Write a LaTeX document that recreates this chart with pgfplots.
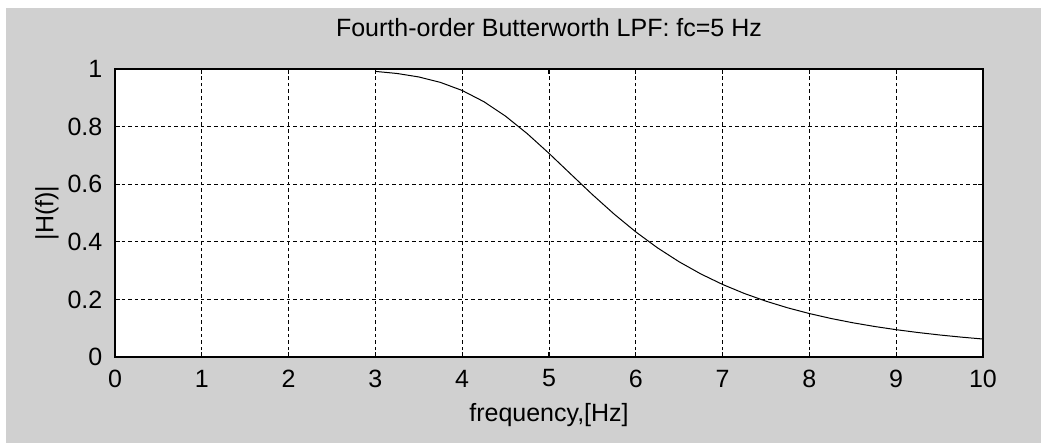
\documentclass[border=0pt]{standalone}
\usepackage{fontspec}
\setmainfont{Liberation Sans}
\usepackage{pgfplots}
\pgfplotsset{compat=1.18}
\definecolor{figgrey}{RGB}{208,208,208}
\begin{document}
\begin{tikzpicture}
\fontsize{12.5}{15}\selectfont
\useasboundingbox[fill=white] (-57.5pt,-44pt) rectangle (463pt,178.5pt);
\fill[figgrey] (-54.5pt,-43pt) rectangle (463pt,174.5pt);
\begin{axis}[
  at={(0pt,0pt)}, anchor=south west,
  scale only axis, width=434pt, height=144pt,
  xmin=0, xmax=10, ymin=0, ymax=1,
  xtick={0,1,...,10}, ytick={0,0.2,0.4,0.6,0.8,1},
  yticklabels={0,0.2,0.4,0.6,0.8,1},
  axis background/.style={fill=white},
  axis line style={black, line width=0.7pt},
  grid=major,
  major grid style={black, line width=0.45pt, dash pattern=on 1.8pt off 1.5pt},
  tick align=inside, major tick length=2.5pt,
  tick style={black, line width=0.6pt},
  /pgf/number format/assume math mode=true,
  ticklabel style={font=\fontsize{12.5}{15}\selectfont},
  xticklabel style={anchor=center, yshift=-10.75pt},
  yticklabel style={anchor=east, xshift=-2pt},
  title={Fourth-order Butterworth LPF: fc=5 Hz},
  title style={at={(axis description cs:0.5,1)}, anchor=center, yshift=14.5pt, font=\fontsize{12.5}{15}\selectfont},
  xlabel={frequency,[Hz]},
  xlabel style={at={(axis description cs:0.5,0)}, anchor=center, yshift=-29pt, font=\fontsize{12.5}{15}\selectfont},
  ylabel={|H(f)|},
  ylabel style={at={(axis description cs:-0.0783,0.5)}, anchor=center, font=\fontsize{12.5}{15}\selectfont},
]
\addplot[black, line width=0.5pt] coordinates {
(3.0,0.99171) (3.25,0.98444) (3.5,0.97237) (3.75,0.95342) (4.0,0.92538)
(4.25,0.88649) (4.5,0.83610) (4.75,0.77535) (5.0,0.70711) (5.25,0.63532)
(5.5,0.56401) (5.75,0.49636) (6.0,0.43437) (6.25,0.37903) (6.5,0.33046)
(6.75,0.28828) (7.0,0.25191) (7.25,0.22064) (7.5,0.19379) (7.75,0.17071)
(8.0,0.15085) (8.25,0.13370) (8.5,0.11888) (8.75,0.10602) (9.0,0.09483)
(9.25,0.08506) (9.5,0.07651) (9.75,0.06900) (10.0,0.06238)
};
\end{axis}
\end{tikzpicture}
\end{document}
